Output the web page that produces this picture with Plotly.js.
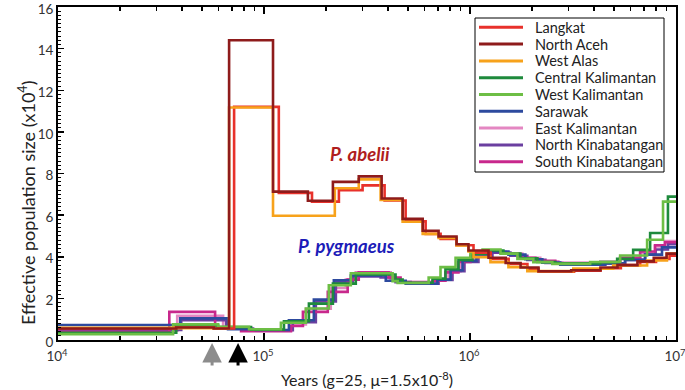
<!DOCTYPE html>
<html>
<head>
<meta charset="utf-8">
<script src="https://cdn.plot.ly/plotly-3.0.1.min.js"></script>
<style>html,body{margin:0;padding:0;background:#fff}#chart{width:685px;height:390px}</style>
</head>
<body>
<div id="chart"></div>
<script>
// ---- data: step start times (years) and Ne values (x10^4) ----
const seriesNames = ["Langkat","North Aceh","West Alas","Central Kalimantan","West Kalimantan","Sarawak","East Kalimantan","North Kinabatangan","South Kinabatangan"];
const seriesColors = ["#E8312B","#8E1B1B","#F7A21B","#1E8A3C","#6DBE45","#2D4A9E","#E487C2","#6B3FA0","#C8288C"];
const endTime = 1e7;

const langkatT = [10000,37000,57000,71600,118000,171000,231000,301000,385000,487000,609000,720000,860000,1040000,1260000,1540000,1900000,2150000,3200000,4300000,5400000,6700000,8000000,9300000];
const langkatV = [0.55,0.6,0.55,11.2,7.07,6.65,7.2,7.43,6.7,5.7,5.1,4.85,4.55,4.2,3.9,3.65,3.42,3.28,3.33,3.45,3.6,3.75,3.9,4.05];

const northAcehT = [10000,37500,57000,67700,110600,163300,216000,288400,372400,470900,589300,703800,860400,983100,1230000,1490000,1760000,2150000,3100000,4300000,5200000,6500000,7800000,9000000];
const northAcehV = [0.55,0.6,0.55,14.4,7.13,6.69,7.6,7.86,6.8,5.82,5.25,4.97,4.6,4.3,3.95,3.7,3.48,3.3,3.35,3.48,3.6,3.78,3.95,4.15];

const westAlasT = [10000,36200,57300,67700,110600,220700,288400,368200,470900,589300,703800,860400,983100,1040000,1257000,1537000,1898000,3173000,4953000,7240000,9040000];
const westAlasV = [0.59,0.57,0.55,11.17,5.97,7.29,7.72,6.73,5.68,5.1,4.9,4.54,4.25,3.98,3.74,3.5,3.31,3.43,3.58,3.82,4.15];

const centralKalT = [10000,37500,59900,86500,125000,165200,216000,279000,435000,470900,658000,760000,879000,1028000,1188000,1453000,1756000,2124000,2594000,4286000,5180000,6194000,7490000,9140000];
const centralKalV = [0.35,0.7,0.62,0.5,0.9,1.75,2.71,3.15,2.9,2.75,2.95,3.4,3.85,4.15,4.3,4.15,3.92,3.75,3.68,3.74,3.9,4.33,5.14,6.89];

const westKalT = [10000,36200,59900,84600,120800,159700,206400,263900,421000,445400,629900,719200,851000,1004600,1151000,1406000,1699000,2030000,2510000,3830000,5356000,7240000,8650000];
const westKalV = [0.28,0.75,0.64,0.52,0.83,1.51,2.63,3.21,2.83,2.74,3.0,3.5,3.95,4.2,4.35,4.15,3.9,3.74,3.66,3.75,4.06,4.82,6.65];

const sarawakT = [10000,39200,66900,91400,132100,174600,218300,263900,390000,487300,695000,805000,920000,1075000,1257000,1537000,1857000,2244000,2742000,4530000,5660000,7080000,8550000];
const sarawakV = [0.72,1.04,0.52,0.48,0.95,1.94,2.87,3.1,2.85,2.7,2.9,3.35,3.8,4.1,4.25,4.1,3.88,3.72,3.62,3.68,3.85,4.1,4.45];

const eastKalT = [10000,37900,63300,86500,135200,159700,210900,249500,279000,412000,460000,680000,787000,899900,1051000,1230000,1487000,1795000,2193000,2684000,4286000,5356000,6700000,7910000,8840000];
const eastKalV = [0.45,1.16,0.6,0.45,0.75,1.5,2.5,2.9,3.25,2.95,2.8,2.9,3.3,3.8,4.1,4.25,4.15,3.95,3.78,3.7,3.75,3.95,4.2,4.5,4.75];

const northKinT = [10000,39650,65500,88500,138000,178500,223300,270000,368200,435000,515000,703800,822200,940000,1099000,1285000,1571000,1898000,2323000,2806000,4530000,5660000,7080000,7960000,9140000];
const northKinV = [0.48,0.95,0.55,0.47,0.85,1.85,2.8,3.05,3.0,2.78,2.7,2.88,3.3,3.75,4.05,4.2,4.05,3.85,3.7,3.62,3.68,3.85,4.1,4.35,4.6];

const southKinT = [10000,34700,57900,77400,135200,154500,204000,254800,288400,402600,460000,658000,760000,879000,1004600,1188000,1436000,1717000,2076000,2594000,4286000,5356000,6700000,7910000,8840000];
const southKinV = [0.4,1.35,0.58,0.42,0.67,1.35,2.31,2.9,3.25,3.0,2.75,2.85,3.25,3.75,4.05,4.25,4.15,3.95,3.8,3.7,3.75,3.95,4.25,4.55,4.7];

const xTickVals = [1e4,1e5,1e6,1e7];
const xTickText = ["10<sup>4</sup>","10<sup>5</sup>","10<sup>6</sup>","10<sup>7</sup>"];
const yTickVals = [0,2,4,6,8,10,12,14,16];

// ---- build ----
const seriesT = [langkatT,northAcehT,westAlasT,centralKalT,westKalT,sarawakT,eastKalT,northKinT,southKinT];
const seriesV = [langkatV,northAcehV,westAlasV,centralKalV,westKalV,sarawakV,eastKalV,northKinV,southKinV];
const drawOrder = [6,7,8,5,3,4,0,2,1];

const FONT = "Lato, 'Open Sans', sans-serif";
const traces = drawOrder.map(i => ({
  type: "scatter", mode: "lines", name: seriesNames[i],
  x: seriesT[i].concat([endTime]),
  y: seriesV[i].concat([seriesV[i][seriesV[i].length-1]]),
  line: {shape: "hv", color: seriesColors[i], width: 2.6},
  showlegend: false, hoverinfo: "x+y+name"
}));

// plot area in pixels
const L = 58, R = 676, T = 7, B = 340, W = 685, H = 390;
const px = x => (x - L) / (R - L);
const py = y => (B - y) / (B - T);

const shapes = [];
const annotations = [];

// manual legend box
shapes.push({type:"rect", xref:"paper", yref:"paper", x0:px(475), x1:px(664), y0:py(172), y1:py(18),
  line:{color:"#000", width:1}, fillcolor:"#fff", layer:"above"});
seriesNames.forEach((nm, i) => {
  const yc = 27.3 + i * 16.8;
  shapes.push({type:"line", xref:"paper", yref:"paper", x0:px(479), x1:px(523), y0:py(yc), y1:py(yc),
    line:{color:seriesColors[i], width:3}, layer:"above"});
  annotations.push({xref:"paper", yref:"paper", x:px(533), y:py(yc), xanchor:"left", yanchor:"middle",
    text:nm, showarrow:false, font:{family:FONT, size:14.5, color:"#222"}});
});

// species labels
annotations.push({xref:"x", yref:"y", x:5.465, y:8.93, text:"<b><i>P. abelii</i></b>", showarrow:false,
  font:{family:FONT, size:18.5, color:"#B01E1E"}});
annotations.push({xref:"x", yref:"y", x:5.402, y:4.5, text:"<b><i>P. pygmaeus</i></b>", showarrow:false,
  font:{family:FONT, size:18.5, color:"#1C1CB8"}});

// arrows under the axis
annotations.push({xref:"x", yref:"paper", x:4.748, y:py(343), ax:0, ay:24, text:"", showarrow:true,
  arrowhead:2, arrowsize:1.3, arrowwidth:3, arrowcolor:"#8C8C8C"});
annotations.push({xref:"x", yref:"paper", x:4.874, y:py(343), ax:0, ay:24, text:"", showarrow:true,
  arrowhead:2, arrowsize:1.3, arrowwidth:3, arrowcolor:"#000"});

// y title (offset as in the reference)
annotations.push({xref:"paper", yref:"paper", x:px(13), y:py(203), textangle:-90, showarrow:false,
  text:"Effective population size (x10<sup>4</sup>)", font:{family:FONT, size:18, color:"#222"}});

const layout = {
  width: W, height: H,
  margin: {l: L, r: W - R, t: T, b: H - B},
  paper_bgcolor: "#fff", plot_bgcolor: "#fff",
  font: {family: FONT, color: "#333"},
  xaxis: {
    type: "log", range: [4, 7], tickvals: xTickVals, ticktext: xTickText,
    ticklabeloverflow: "allow", ticklabelstandoff: 3, ticklabelshift: -1,
    showgrid: false, zeroline: false, showline: true, linecolor: "#000", linewidth: 2, mirror: "ticks",
    ticks: "inside", ticklen: 7, tickwidth: 1.5, tickcolor: "#000",
    minor: {ticks: "inside", ticklen: 4, tickwidth: 1.2, tickcolor: "#000", dtick: "D1", showgrid: false},
    tickfont: {family: FONT, size: 13.5, color: "#333"},
    title: {text: "Years (g=25, μ=1.5x10<sup>-8</sup>)", font: {family: FONT, size: 16, color: "#222"}, standoff: 12}
  },
  yaxis: {
    range: [0, 16], tickvals: yTickVals, ticklabeloverflow: "allow", ticklabelshift: 2,
    showgrid: false, zeroline: false, showline: true, linecolor: "#000", linewidth: 2, mirror: true,
    ticks: "inside", ticklen: 6, tickwidth: 1.5, tickcolor: "#000",
    minor: {ticks: "inside", ticklen: 3, tickwidth: 1, tickcolor: "#000", dtick: 0.2, showgrid: false},
    tickfont: {family: FONT, size: 13.5, color: "#333"}
  },
  shapes: shapes,
  annotations: annotations,
  showlegend: false
};

Plotly.newPlot("chart", traces, layout, {staticPlot: true, displayModeBar: false});
</script>
</body>
</html>
